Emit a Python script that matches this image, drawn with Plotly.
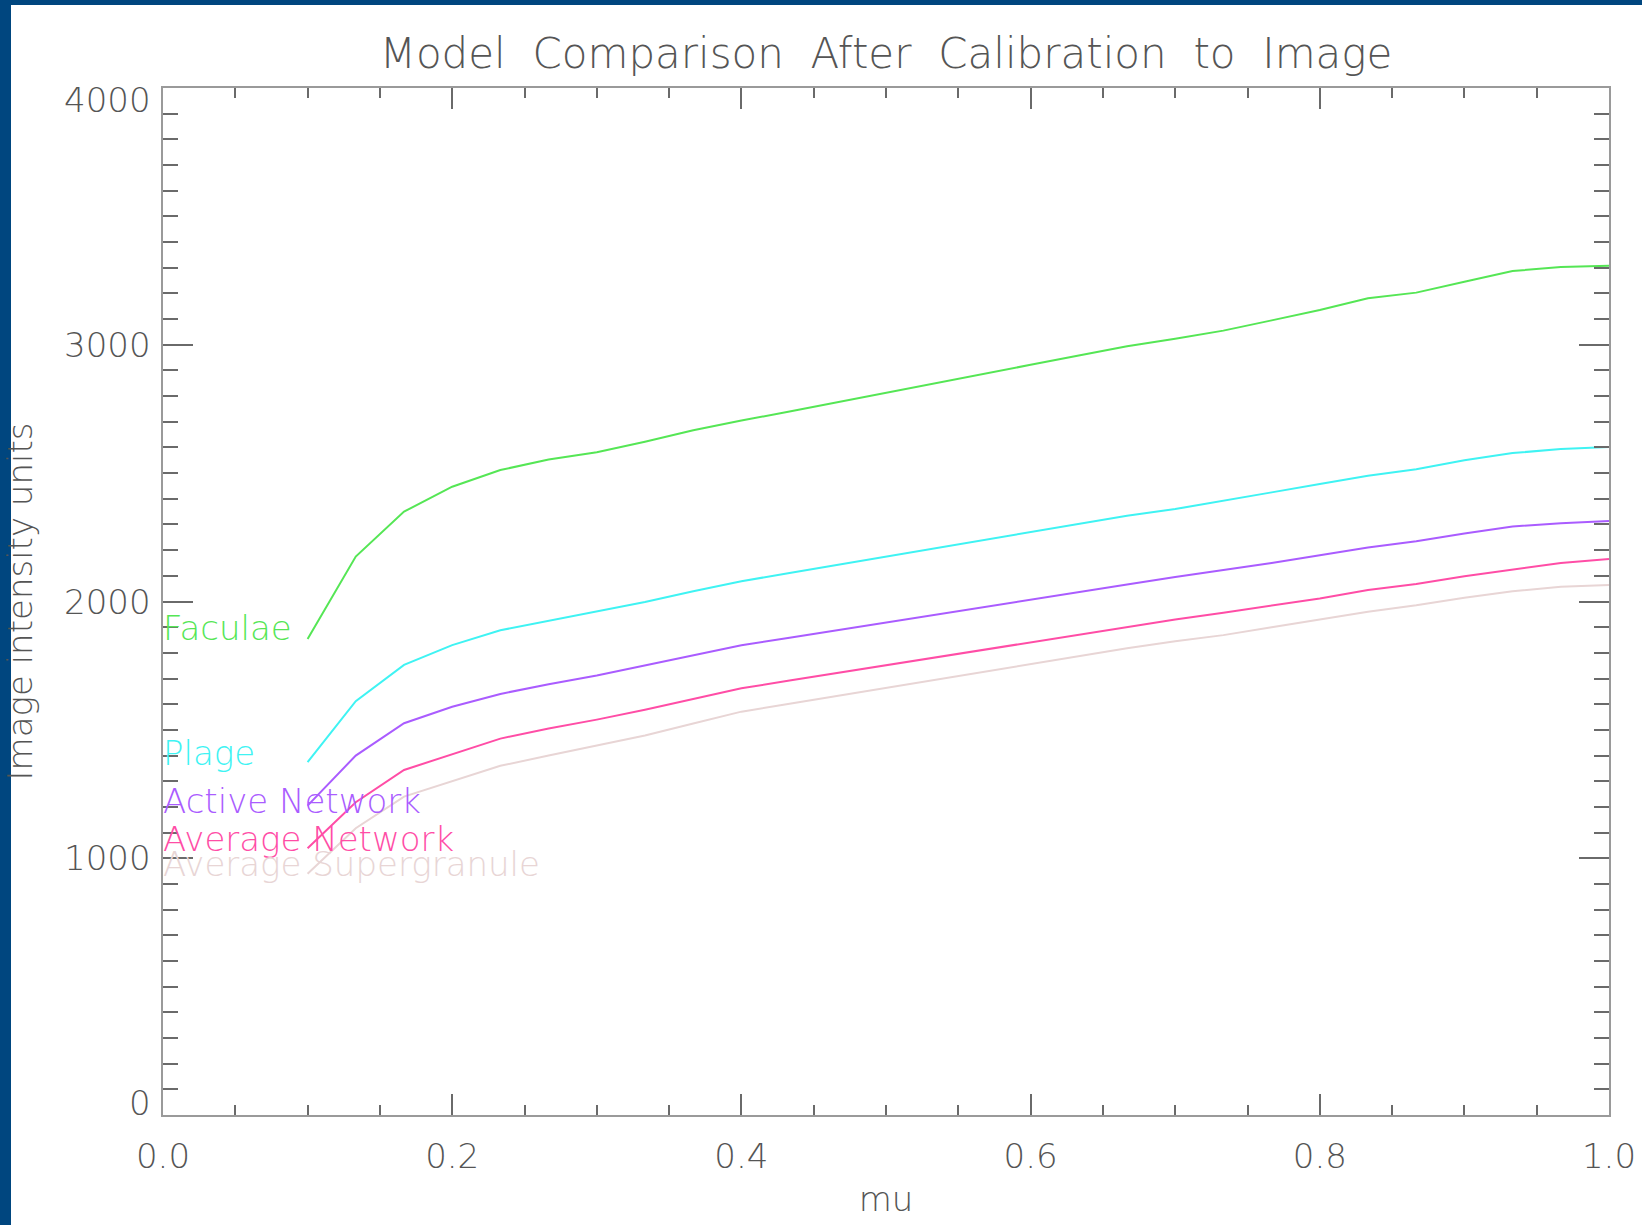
import plotly.graph_objects as go

mu = [0.1000, 0.1333, 0.1667, 0.2000, 0.2333, 0.2667, 0.3000, 0.3333, 0.3667, 0.4000,
      0.4333, 0.4667, 0.5000, 0.5333, 0.5667, 0.6000, 0.6333, 0.6667, 0.7000, 0.7333,
      0.7667, 0.8000, 0.8333, 0.8667, 0.9000, 0.9333, 0.9667, 1.0000]

faculae = [1854, 2175, 2350, 2447, 2512, 2553, 2581, 2622, 2667, 2705,
           2740, 2777, 2813, 2850, 2886, 2922, 2958, 2994, 3023, 3055,
           3095, 3135, 3181, 3203, 3245, 3287, 3303, 3308]
plage = [1374, 1612, 1753, 1830, 1888, 1925, 1960, 1998, 2040, 2079,
         2111, 2143, 2174, 2206, 2238, 2270, 2302, 2334, 2360, 2391,
         2425, 2458, 2490, 2515, 2550, 2578, 2594, 2602]
active_network = [1205, 1400, 1526, 1590, 1640, 1678, 1712, 1752, 1792, 1830,
                  1859, 1889, 1919, 1948, 1978, 2007, 2037, 2066, 2095, 2121,
                  2150, 2180, 2210, 2235, 2265, 2292, 2305, 2314]
average_network = [1039, 1218, 1344, 1405, 1466, 1505, 1540, 1578, 1620, 1662,
                   1692, 1722, 1752, 1782, 1813, 1843, 1873, 1903, 1930, 1956,
                   1985, 2012, 2045, 2068, 2098, 2124, 2150, 2166]
average_supergranule = [940, 1117, 1240, 1300, 1360, 1400, 1440, 1478, 1525, 1571,
                        1602, 1633, 1664, 1694, 1725, 1756, 1787, 1818, 1845, 1869,
                        1900, 1930, 1960, 1985, 2015, 2040, 2057, 2064]

names = ["Faculae", "Plage", "Active Network", "Average Network", "Average Supergranule"]
series = [faculae, plage, active_network, average_network, average_supergranule]
colors = ["#55e655", "#3ff3f3", "#aa5cff", "#ff4da6", "#e8d5d5"]
label_yshift = [-11, -13, -17, -13, -12]

x_ticks = [0.0, 0.2, 0.4, 0.6, 0.8, 1.0]
x_ticklabels = ["0.0", "0.2", "0.4", "0.6", "0.8", "1.0"]
y_ticks = [0, 1000, 2000, 3000, 4000]
y_ticklabels = ["0", "1000", "2000", "3000", "4000"]

FONT = "DejaVu Sans"
WEIGHT = 200
TXT = "#555555"
W, H = 1642, 1225
ML, MR, MT, MB = 163, 33, 88, 110
PW, PH = W - ML - MR, H - MT - MB

fig = go.Figure()
for name, vals, col, ysh in zip(names, series, colors, label_yshift):
    fig.add_trace(go.Scatter(x=mu, y=vals, mode="lines", name=name,
                             line=dict(color=col, width=2), showlegend=False))
    fig.add_annotation(x=0, y=vals[0], xref="x", yref="y", text=name,
                       showarrow=False, xanchor="left", yanchor="bottom",
                       xshift=-2, yshift=ysh,
                       font=dict(family=FONT, size=34, color=col, weight=WEIGHT))

# y tick labels placed at their tick values (end labels nudged inward, as in the original)
for i, (val, lab) in enumerate(zip(y_ticks, y_ticklabels)):
    shift = 12 if i == 0 else (-12 if i == len(y_ticks) - 1 else 0)
    fig.add_annotation(x=0, y=val, xref="paper", yref="y", text=lab,
                       showarrow=False, xanchor="right", yanchor="middle",
                       xshift=-10, yshift=shift,
                       font=dict(family=FONT, size=34, color=TXT, weight=WEIGHT))

axis_common = dict(showline=True, linecolor="#9a9a9a", linewidth=2, mirror="ticks",
                   ticks="inside", tickcolor="#6a6a6a", tickwidth=1.5,
                   showgrid=False, zeroline=False, automargin=False,
                   tickfont=dict(family=FONT, size=34, color=TXT, weight=WEIGHT))

fig.update_xaxes(range=[0, 1], tickvals=x_ticks, ticktext=x_ticklabels, ticklen=21,
                 minor=dict(dtick=0.05, ticklen=10, ticks="inside", tickcolor="#6a6a6a",
                            tickwidth=1.5, showgrid=False),
                 title=dict(text="mu", font=dict(family=FONT, size=34, color=TXT, weight=WEIGHT),
                            standoff=12),
                 ticklabelstandoff=10,
                 **axis_common)
fig.update_yaxes(range=[0, 4000], tickvals=y_ticks, showticklabels=False, ticklen=30,
                 minor=dict(dtick=100, ticklen=15, ticks="inside", tickcolor="#6a6a6a",
                            tickwidth=1.5, showgrid=False),
                 title=dict(text="Image intensity units",
                            font=dict(family=FONT, size=34, color=TXT, weight=WEIGHT),
                            standoff=122),
                 **axis_common)

# dark blue frame strips at left and top of the page
fig.add_shape(type="rect", xref="paper", yref="paper",
              x0=-ML / PW, x1=(11 - ML) / PW, y0=-MB / PH, y1=1 + MT / PH,
              fillcolor="#00467f", line_width=0, layer="below")
fig.add_shape(type="rect", xref="paper", yref="paper",
              x0=-ML / PW, x1=1 + MR / PW, y0=1 + (MT - 5) / PH, y1=1 + MT / PH,
              fillcolor="#00467f", line_width=0, layer="below")

fig.update_layout(
    width=W, height=H,
    margin=dict(l=ML, r=MR, t=MT, b=MB, pad=0),
    paper_bgcolor="white", plot_bgcolor="white",
    title=dict(text="Model\u00a0 Comparison\u00a0 After\u00a0 Calibration\u00a0 to\u00a0 Image",
               font=dict(family=FONT, size=42, color=TXT, weight=WEIGHT),
               x=0.5, xref="paper", xanchor="center",
               y=1 - 53 / H, yref="container", yanchor="middle"),
)

fig.write_html("out.html", config={"displayModeBar": False},
               post_script="document.body.style.margin='0';document.body.style.overflow='hidden';")
